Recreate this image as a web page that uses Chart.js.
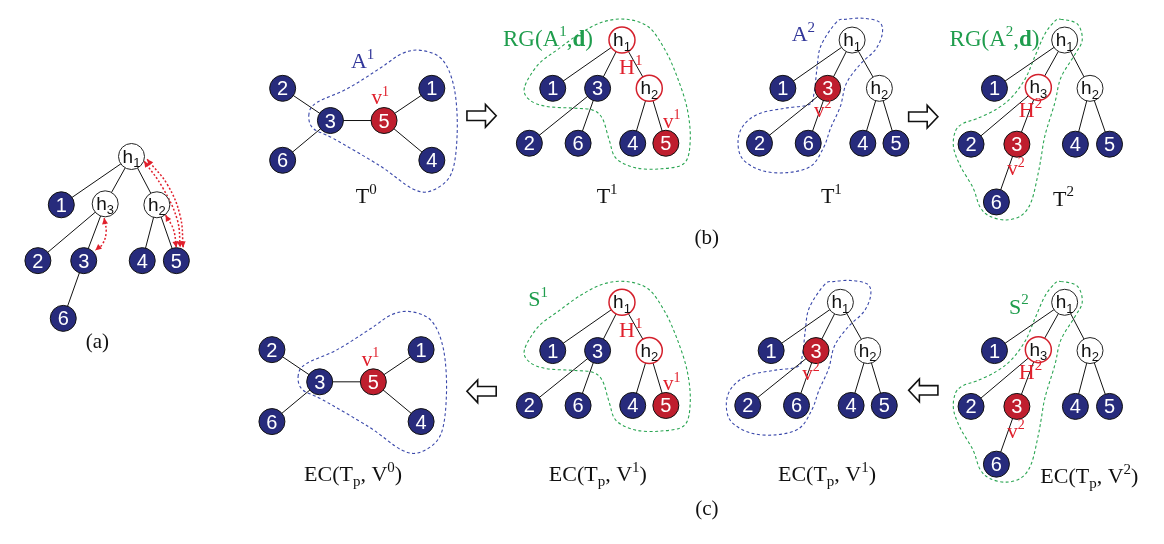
<!DOCTYPE html>
<html>
<head>
<meta charset="utf-8">
<script src="https://cdn.jsdelivr.net/npm/chart.js@4.4.0/dist/chart.umd.min.js"></script>
<style>
  html, body { margin: 0; padding: 0; background: #fff; }
</style>
</head>
<body>
<canvas id="diagram" width="1164" height="544"></canvas>
<script>
// ---- node layouts (picture pixels) ----
const starIds = ['2', '3', '5', '1', '6', '4'];
const starX = [275, 324, 379, 428, 275, 428];
const starY = [78, 112, 112, 78, 154, 154];
const starEdges = [['2', '3'], ['6', '3'], ['3', '5'], ['5', '1'], ['5', '4']];

const tree1Ids = ['h1', '1', '3', 'h2', '2', '6', '4', '5'];
const tree1X = [623, 552, 598, 651, 528, 578, 634, 668];
const tree1Y = [27, 78, 78, 78, 136, 136, 136, 136];
const tree1Edges = [['h1', '1'], ['h1', '3'], ['h1', 'h2'], ['3', '2'], ['3', '6'], ['h2', '4'], ['h2', '5']];

const tree2Ids = ['h1', '1', 'h3', 'h2', '2', '3', '4', '5', '6'];
const tree2X = [1077, 1005, 1050, 1103, 981, 1028, 1088, 1123, 1007];
const tree2Y = [27, 78, 77, 78, 137, 137, 137, 137, 198];
const tree2Edges = [['h1', '1'], ['h1', 'h3'], ['h1', 'h2'], ['h3', '2'], ['h3', '3'], ['3', '6'], ['h2', '4'], ['h2', '5']];

// ---- panels: (a), T0, T1, T1, T2, then the EC row ----
const panelLayout = ['tree2', 'star', 'tree1', 'tree1', 'tree2', 'star', 'tree1', 'tree1', 'tree2'];
const panelDx = [-957, 0, 0, 236, 0, -11, 0, 224, 0];
const panelDy = [123, 0, 0, 0, 0, 276, 277, 277, 277];
const panelRedNodes = [[], ['5'], ['5'], ['3'], ['3'], ['5'], ['5'], ['3'], ['3']];
const panelRedRings = [[], [], ['h1', 'h2'], [], ['h3'], [], ['h1', 'h2'], [], ['h3']];

// ---- dashed outlines (control points of closed curves) ----
const blobA1X = [302, 306, 327, 375, 408, 428, 448, 454, 451, 439, 418, 398, 376, 342, 310];
const blobA1Y = [105, 120, 131, 160, 184, 186, 168, 125, 78, 48, 38, 41, 56, 78, 93];
const blobRG1X = [523, 528, 545, 575, 593, 603, 610, 617, 637, 663, 687, 693, 690, 680, 667, 650, 627, 603, 580, 557, 537];
const blobRG1Y = [77, 90, 97, 99, 101, 110, 133, 152, 162, 163, 157, 133, 100, 67, 37, 13, 5, 8, 20, 37, 53];
const blobA2X = [843, 827, 823, 820, 815, 790, 763, 747, 742, 747, 767, 793, 817, 830, 837, 847, 853, 867, 883, 890, 887, 870, 853];
const blobA2Y = [8, 33, 57, 83, 95, 99, 105, 118, 135, 153, 165, 167, 160, 140, 120, 97, 73, 53, 37, 20, 8, 4, 5];
const blobRG2X = [1073, 1090, 1095, 1087, 1073, 1067, 1057, 1053, 1050, 1043, 1033, 1017, 1000, 990, 983, 970, 963, 965, 973, 987, 1007, 1023, 1037, 1047, 1057, 1067];
const blobRG2Y = [5, 10, 27, 43, 67, 93, 127, 150, 167, 197, 212, 217, 213, 203, 183, 160, 140, 123, 115, 110, 100, 87, 67, 43, 20, 7];

// ---- red dotted arcs in panel (a) ----
const arcOuterX = [136, 157, 170, 173];
const arcOuterY = [153, 180, 213, 246];
const arcInnerX = [133, 152, 167, 170];
const arcInnerY = [155, 183, 217, 246];
const arcH2X = [155, 163, 166];
const arcH2Y = [212, 227, 246];
const arcH3X = [92, 94, 90, 83];
const arcH3Y = [215, 230, 243, 249];

// ---- hollow block arrows between panels ----
const bigArrowX = [479, 932, 479, 932];
const bigArrowY = [107, 108, 398, 397];
const bigArrowDir = [1, 1, -1, -1];

const NAVY = '#272b7c';
const REDFILL = '#bf1e2e';
const RED = '#e0202c';
const BLUE = '#32379a';
const GREEN = '#1f9d4d';

const outlines = [
  [blobA1X, blobA1Y, '#3a48aa', 0, 0],
  [blobRG1X, blobRG1Y, '#2aa552', 0, 0],
  [blobA2X, blobA2Y, '#3a48aa', 0, 0],
  [blobRG2X, blobRG2Y, '#2aa552', 0, 0],
  [blobA1X, blobA1Y, '#3a48aa', -11, 276],
  [blobRG1X, blobRG1Y, '#2aa552', 0, 277],
  [blobA2X, blobA2Y, '#3a48aa', -12, 277],
  [blobRG2X, blobRG2Y, '#2aa552', 0, 277],
];

// text, left x (or centre), baseline y, colour, size, align
const labels = [
  ['A^1', 345, 57, BLUE, 22],
  ['v^1', 366, 95, RED, 21],
  ['T^0', 350, 199, '#111', 22],
  ['RG(A^1,*d*)', 501, 33, GREEN, 23],
  ['H^1', 620, 63, RED, 22],
  ['v^1', 665, 120, RED, 21],
  ['T^1', 597, 199, '#111', 22],
  ['A^2', 797, 28, BLUE, 22],
  ['v^2', 820, 108, RED, 21],
  ['T^1', 827, 199, '#111', 22],
  ['RG(A^2,*d*)', 959, 33, GREEN, 23],
  ['H^2', 1030, 108, RED, 22],
  ['v^2', 1018, 170, RED, 21],
  ['T^2', 1065, 202, '#111', 22],
  ['(a)', 85, 352, '#111', 21, 'center'],
  ['(b)', 710, 242, '#111', 21, 'center'],
  ['v^1', 356, 371, RED, 21],
  ['EC(T_p, V^0)', 297, 493, '#111', 22],
  ['S^1', 527, 308, GREEN, 22],
  ['H^1', 620, 341, RED, 22],
  ['v^1', 665, 397, RED, 21],
  ['EC(T_p, V^1)', 548, 493, '#111', 22],
  ['v^2', 808, 386, RED, 21],
  ['EC(T_p, V^1)', 783, 493, '#111', 22],
  ['S^2', 1020, 316, GREEN, 22],
  ['H^2', 1030, 385, RED, 22],
  ['v^2', 1018, 447, RED, 21],
  ['EC(T_p, V^2)', 1052, 495, '#111', 22],
  ['(c)', 710, 529, '#111', 21, 'center'],
];

const layouts = {
  star: { ids: starIds, x: starX, y: starY, edges: starEdges },
  tree1: { ids: tree1Ids, x: tree1X, y: tree1Y, edges: tree1Edges },
  tree2: { ids: tree2Ids, x: tree2X, y: tree2Y, edges: tree2Edges },
};

// build point lists for every panel
const navyPts = [], redPts = [], hPts = [], ringPts = [], edgePts = [], nodeText = [];
panelLayout.forEach((name, p) => {
  const L = layouts[name];
  const pos = {};
  L.ids.forEach((id, i) => {
    const pt = { x: L.x[i] + panelDx[p], y: L.y[i] + panelDy[p] };
    pos[id] = pt;
    if (id[0] === 'h') (panelRedRings[p].includes(id) ? ringPts : hPts).push(pt);
    else (panelRedNodes[p].includes(id) ? redPts : navyPts).push(pt);
    nodeText.push({ x: pt.x, y: pt.y, id: id });
  });
  L.edges.forEach(([a, b]) => {
    edgePts.push(pos[a], pos[b], { x: null, y: null });
  });
});

const zip = (xs, ys) => xs.map((v, i) => ({ x: v, y: ys[i] }));
const arcs = [zip(arcOuterX, arcOuterY), zip(arcInnerX, arcInnerY), zip(arcH2X, arcH2Y), zip(arcH3X, arcH3Y)];

function nodeSet(data, fill, border, width) {
  return {
    data: data, showLine: false, order: 0,
    pointRadius: 13, pointBackgroundColor: fill, pointBorderColor: border, pointBorderWidth: width,
  };
}

// rich text: ^x superscript, _x subscript, *..* bold
function drawRich(ctx, str, x, y, size, family, color, align) {
  const parts = [];
  let bold = false;
  for (let i = 0; i < str.length; i++) {
    const c = str[i];
    if (c === '*') { bold = !bold; continue; }
    if (c === '^' || c === '_') { parts.push({ t: str[++i], mode: c, bold }); continue; }
    parts.push({ t: c, mode: '', bold });
  }
  const font = (p) => (p.bold ? 'bold ' : '') + (p.mode ? Math.round(size * 0.66) : size) + 'px ' + family;
  let w = 0;
  parts.forEach(p => { ctx.font = font(p); p.w = ctx.measureText(p.t).width; w += p.w; });
  let cx = align === 'center' ? x - w / 2 : x;
  ctx.fillStyle = color;
  ctx.textAlign = 'left';
  ctx.textBaseline = 'alphabetic';
  parts.forEach(p => {
    ctx.font = font(p);
    const dy = p.mode === '^' ? -size * 0.42 : (p.mode === '_' ? size * 0.24 : 0);
    ctx.fillText(p.t, cx, y + dy);
    cx += p.w;
  });
}

const diagramPlugin = {
  id: 'diagram',
  beforeDatasetsDraw(chart) {
    const { ctx, scales: { x, y } } = chart;
    ctx.save();
    ctx.lineWidth = 1.1;
    ctx.setLineDash([3, 2.5]);
    outlines.forEach(([xs, ys, color, dx, dy]) => {
      const p = xs.map((v, i) => [x.getPixelForValue(v + dx), y.getPixelForValue(ys[i] + dy)]);
      const n = p.length;
      ctx.strokeStyle = color;
      ctx.beginPath();
      ctx.moveTo(p[0][0], p[0][1]);
      for (let i = 0; i < n; i++) {
        const p0 = p[(i - 1 + n) % n], p1 = p[i], p2 = p[(i + 1) % n], p3 = p[(i + 2) % n];
        ctx.bezierCurveTo(
          p1[0] + (p2[0] - p0[0]) / 6, p1[1] + (p2[1] - p0[1]) / 6,
          p2[0] - (p3[0] - p1[0]) / 6, p2[1] - (p3[1] - p1[1]) / 6,
          p2[0], p2[1]);
      }
      ctx.stroke();
    });
    ctx.restore();
  },
  afterDatasetsDraw(chart) {
    const { ctx, scales: { x, y } } = chart;
    ctx.save();
    // arrow heads on the dotted arcs
    ctx.fillStyle = RED;
    const head = (tip, from) => {
      const tx = x.getPixelForValue(tip.x), ty = y.getPixelForValue(tip.y);
      const a = Math.atan2(ty - y.getPixelForValue(from.y), tx - x.getPixelForValue(from.x));
      ctx.beginPath();
      ctx.moveTo(tx, ty);
      ctx.lineTo(tx - 6 * Math.cos(a) + 3 * Math.sin(a), ty - 6 * Math.sin(a) - 3 * Math.cos(a));
      ctx.lineTo(tx - 6 * Math.cos(a) - 3 * Math.sin(a), ty - 6 * Math.sin(a) + 3 * Math.cos(a));
      ctx.closePath();
      ctx.fill();
    };
    arcs.forEach(a => {
      head(a[0], a[1]);
      head(a[a.length - 1], a[a.length - 2]);
    });
    // hollow block arrows
    ctx.strokeStyle = '#111';
    ctx.fillStyle = '#fff';
    ctx.lineWidth = 1.6;
    const shape = [[-15, -5], [4, -5], [4, -12], [15, 0], [4, 12], [4, 5], [-15, 5]];
    bigArrowX.forEach((cx, i) => {
      ctx.beginPath();
      shape.forEach(([sx, sy], k) => {
        const px = x.getPixelForValue(cx + sx * bigArrowDir[i]);
        const py = y.getPixelForValue(bigArrowY[i] + sy);
        k ? ctx.lineTo(px, py) : ctx.moveTo(px, py);
      });
      ctx.closePath();
      ctx.fill();
      ctx.stroke();
    });
    // node names
    nodeText.forEach(n => {
      const px = x.getPixelForValue(n.x), py = y.getPixelForValue(n.y);
      if (n.id[0] === 'h') {
        drawRich(ctx, 'h_' + n.id.slice(1), px, py + 6, 19, '"Liberation Sans", Arial, sans-serif', '#111', 'center');
      } else {
        drawRich(ctx, n.id, px, py + 7, 20, '"Liberation Sans", Arial, sans-serif', '#fff', 'center');
      }
    });
    // labels
    labels.forEach(([t, lx, ly, color, size, align]) => {
      drawRich(ctx, t, x.getPixelForValue(lx), y.getPixelForValue(ly), size, '"Liberation Serif", "Times New Roman", serif', color, align);
    });
    ctx.restore();
  }
};

const datasets = [
  nodeSet(navyPts, NAVY, '#111', 1),
  nodeSet(redPts, REDFILL, '#111', 1),
  nodeSet(hPts, '#fff', '#222', 1),
  nodeSet(ringPts, '#fff', '#d4202c', 1.5),
  { data: edgePts, showLine: true, order: 5, pointRadius: 0, borderColor: '#111', borderWidth: 1, spanGaps: false },
];
arcs.forEach(a => {
  datasets.push({
    data: a, showLine: true, order: 4, pointRadius: 0, tension: 0.4,
    borderColor: RED, borderWidth: 1.5, borderDash: [2, 2],
  });
});

new Chart(document.getElementById('diagram'), {
  type: 'scatter',
  data: { datasets: datasets },
  options: {
    responsive: false,
    animation: false,
    events: [],
    layout: { padding: 0 },
    scales: {
      x: { type: 'linear', min: 0, max: 1164, display: false },
      y: { type: 'linear', min: 0, max: 544, reverse: true, display: false },
    },
    plugins: { legend: { display: false }, tooltip: { enabled: false } },
    datasets: { scatter: { clip: false } },
  },
  plugins: [diagramPlugin],
});
</script>
</body>
</html>
